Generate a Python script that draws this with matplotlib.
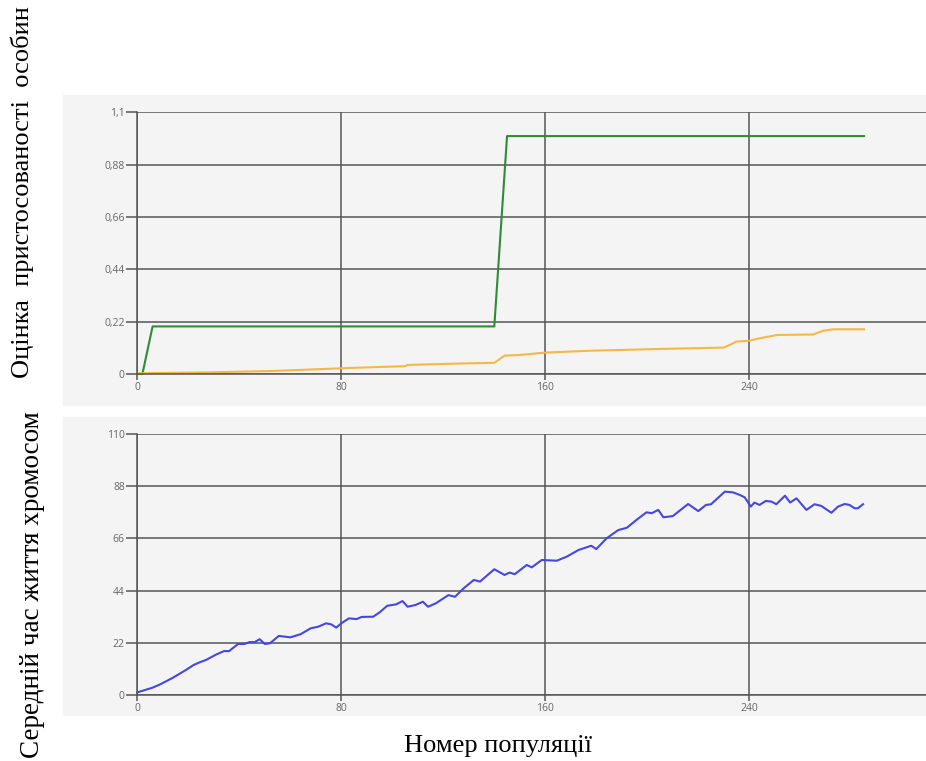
import matplotlib.pyplot as plt
from matplotlib.patches import Rectangle
from matplotlib.ticker import FixedLocator

# top chart: fitness of individuals
best_x = [0, 2, 6, 140, 145, 285]
best_y = [0, 0, 0.2, 0.2, 1.0, 1.0]

avg_x = [0, 28, 54, 80, 88, 105, 106, 126, 140, 144, 150, 160, 178, 204, 230,
         235, 240, 244, 251, 265, 269, 273, 285]
avg_y = [0.003, 0.007, 0.013, 0.024, 0.027, 0.033, 0.038, 0.044, 0.047, 0.077,
         0.080, 0.090, 0.098, 0.105, 0.111, 0.136, 0.140, 0.150, 0.164, 0.166,
         0.182, 0.188, 0.188]

# bottom chart: average chromosome lifetime
life_x = [0, 6, 9, 14, 19, 22, 24.5, 27, 31, 34, 36, 39.5, 42, 44, 46, 48, 50,
          52, 55.5, 60, 64, 68, 71, 74, 76, 78, 80, 83, 86, 88, 92.5, 95, 98,
          101.5, 104, 106, 109, 112, 114, 117, 122, 124.6, 128, 132, 134.4,
          140, 144, 146, 148, 152.7, 154.7, 158.6, 164.5, 168.4, 173, 178,
          180, 184, 188.6, 192, 196, 199.7, 201.7, 204.3, 206.3, 210, 216,
          220, 223, 225, 230.4, 233.6, 236.3, 238.2, 240.6, 242, 244, 246.5,
          248.7, 250.6, 254, 256, 258.5, 262.4, 265.6, 268.2, 272.2, 274.8,
          277.4, 279.3, 281.3, 282.6, 284.6]
life_y = [1.1, 3.1, 4.5, 7.3, 10.5, 12.6, 13.8, 14.8, 17.1, 18.5, 18.5, 21.5,
          21.5, 22.3, 22.3, 23.5, 21.5, 21.8, 24.9, 24.3, 25.6, 28.1, 28.8,
          30.2, 29.8, 28.4, 30.2, 32.3, 32.0, 32.9, 33.0, 34.8, 37.6, 38.2,
          39.6, 37.2, 37.9, 39.3, 37.2, 38.6, 42.1, 41.4, 45.0, 48.5, 47.8,
          53.0, 50.6, 51.6, 50.9, 54.8, 53.8, 56.9, 56.6, 58.3, 61.1, 62.9,
          61.5, 66.0, 69.5, 70.5, 74.0, 77.0, 76.6, 78.0, 74.9, 75.4, 80.5,
          77.5, 80.1, 80.4, 85.7, 85.4, 84.3, 83.3, 79.4, 81.1, 80.1, 81.8,
          81.5, 80.4, 84.0, 81.1, 82.9, 78.0, 80.4, 79.7, 76.8, 79.4, 80.5,
          80.1, 78.7, 78.7, 80.4]

x_ticks = [0, 80, 160, 240]
top_ticks = [0, 0.22, 0.44, 0.66, 0.88, 1.1]
top_labels = ["0", "0,22", "0,44", "0,66", "0,88", "1,1"]
bot_ticks = [0, 22, 44, 66, 88, 110]
bot_labels = ["0", "22", "44", "66", "88", "110"]

W, H = 926, 761
fig = plt.figure(figsize=(W / 100, H / 100), dpi=100)
fig.patch.set_facecolor("white")

panel = "#f4f4f4"
fig.patches.append(Rectangle((63 / W, 1 - 405 / H), 1, 310 / H,
                             transform=fig.transFigure, color=panel, zorder=-5))
fig.patches.append(Rectangle((63 / W, 1 - 715 / H), 1, 298 / H,
                             transform=fig.transFigure, color=panel, zorder=-5))

left = 137.3 / W
width = 1 - left
ax1 = fig.add_axes([left, 1 - 374 / H, width, 261.7 / H])
ax2 = fig.add_axes([left, 1 - 695 / H, width, 261 / H])

xmax = (W - 137.3) / 2.55

grid_c = "#555555"
for ax, ticks, labels in [(ax1, top_ticks, top_labels), (ax2, bot_ticks, bot_labels)]:
    ax.set_zorder(2)
    ax.set_facecolor(panel)
    ax.set_xlim(0, xmax)
    ax.set_ylim(ticks[0], ticks[-1])
    ax.xaxis.set_major_locator(FixedLocator(x_ticks))
    ax.set_xticklabels([str(t) for t in x_ticks])
    ax.set_yticks(ticks)
    ax.set_yticklabels(labels)
    ax.grid(True, color=grid_c, linewidth=1.1)
    for s in ["top", "right"]:
        ax.spines[s].set_visible(False)
    for s in ["left", "bottom"]:
        ax.spines[s].set_color(grid_c)
        ax.spines[s].set_linewidth(1.1)
    ax.tick_params(axis="y", length=8, width=1.1, color=grid_c, pad=1,
                   labelsize=7.5, labelcolor="#666666")
    ax.tick_params(axis="x", length=4, width=1.1, color=grid_c, pad=2,
                   labelsize=7.5, labelcolor="#666666")
    for lbl in ax.get_xticklabels() + ax.get_yticklabels():
        lbl.set_family("Open Sans")
    ax.set_axisbelow(True)

ax1.plot(best_x, best_y, color="#2e8b36", linewidth=1.5, clip_on=False)
ax1.plot(avg_x, avg_y, color="#f6b845", linewidth=1.5, clip_on=False)
ax2.plot(life_x, life_y, color="#4646e2", linewidth=1.5, clip_on=False)

fig.text(22 / W, 1 - 192 / H, "Оцінка  пристосованості  особин", rotation=90,
         ha="center", va="center", family="Liberation Serif", fontsize=19)
fig.text(33 / W, 1 - 585 / H, "Середній час життя хромосом", rotation=90,
         ha="center", va="center", family="Liberation Serif", fontsize=19.5)
fig.text(498 / W, 1 - 746 / H, "Номер популяції", ha="center", va="center",
         family="Liberation Serif", fontsize=19)

fig.savefig("out.png", dpi=100)
